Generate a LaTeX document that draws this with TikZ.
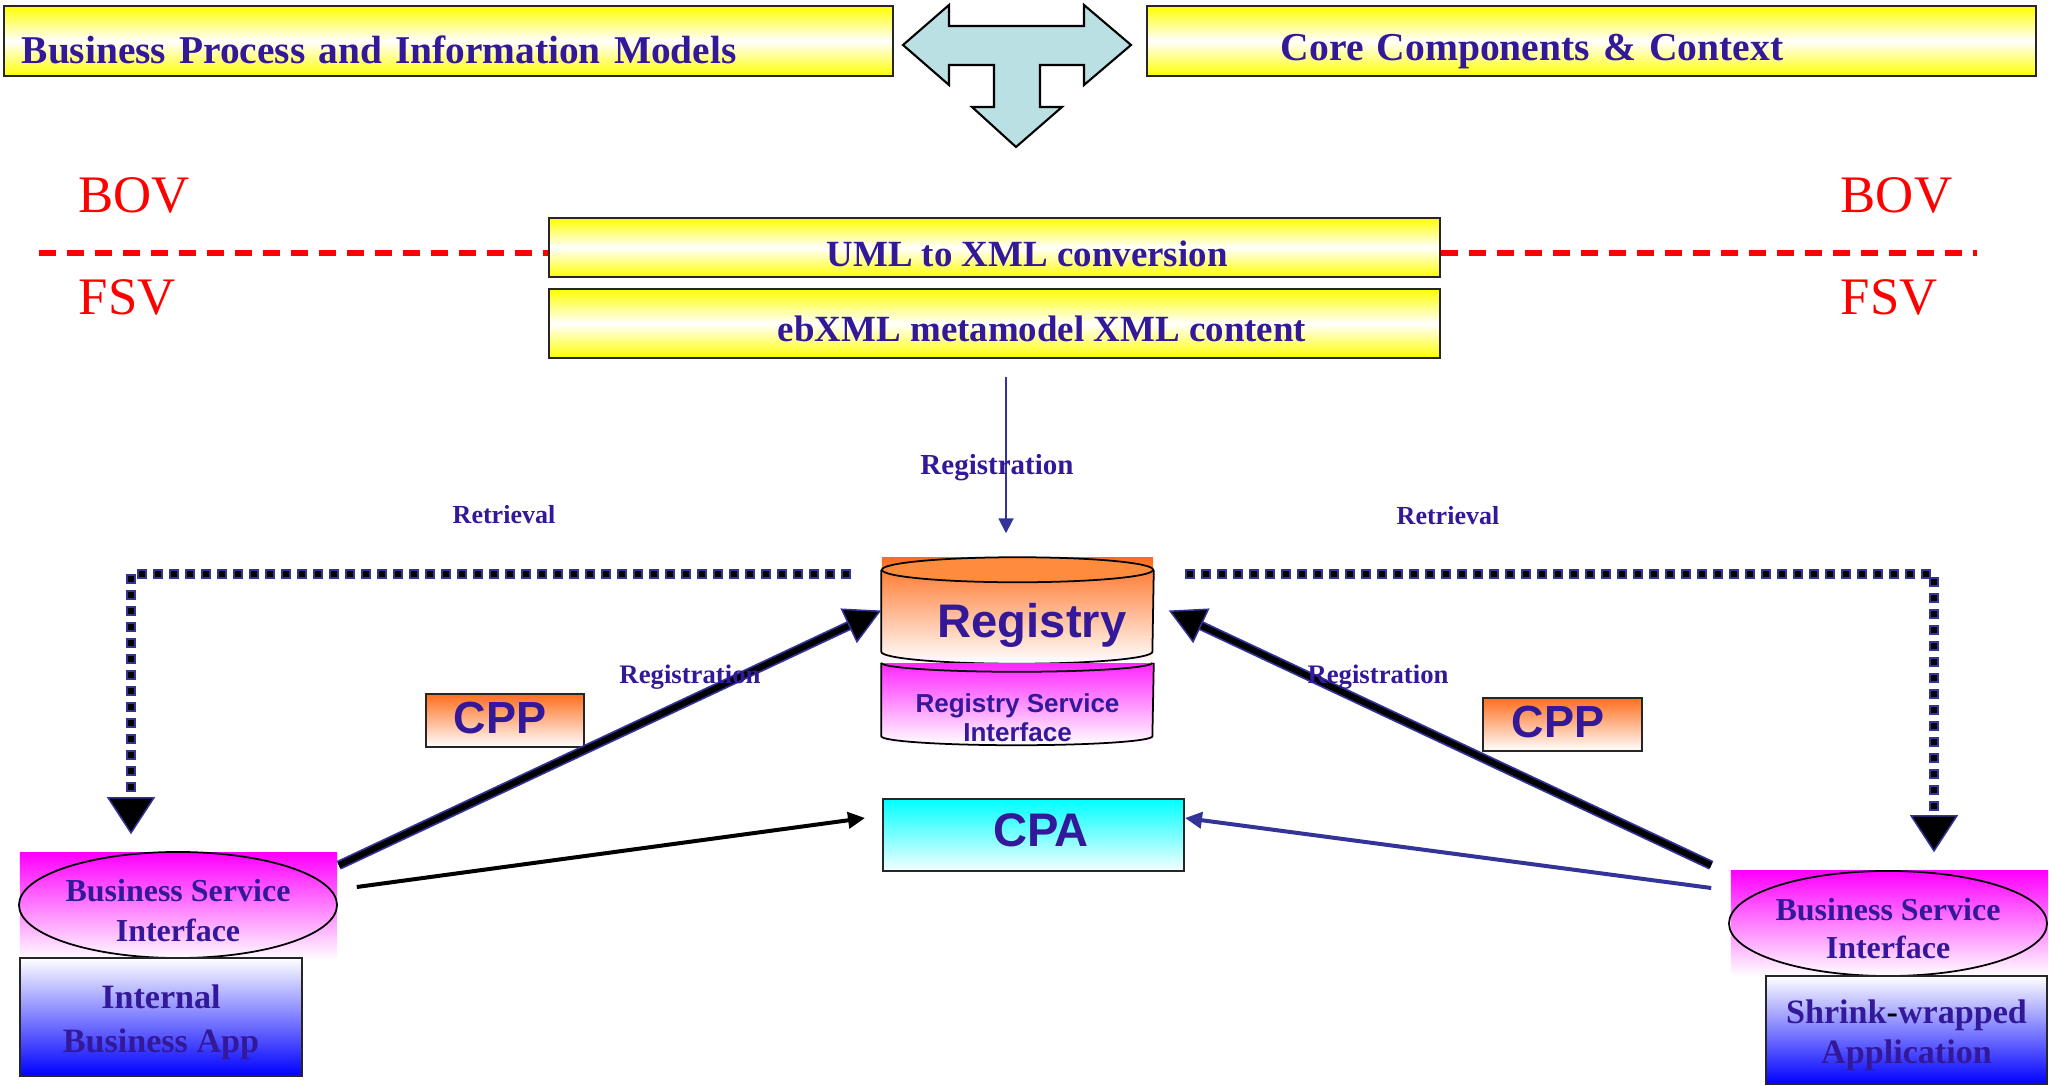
\documentclass[tikz,border=0pt]{standalone}
\usepackage{fontspec}
\setmainfont{Liberation Serif}
\newfontfamily\helv{Liberation Sans}
\usetikzlibrary{arrows.meta,calc,shapes.geometric}
\definecolor{ebblue}{RGB}{51,25,153}
\definecolor{ebline}{RGB}{51,51,153}
\definecolor{tcyan}{RGB}{187,224,227}
\definecolor{ebor}{RGB}{255,110,30}
\definecolor{ebor2}{RGB}{255,140,60}
\definecolor{ebmag}{RGB}{255,0,255}
\begin{document}
\begin{tikzpicture}[x=0.01cm,y=-0.01cm,
  box/.style={draw=black!85, line width=0.5pt, inner sep=0pt},
  ybox/.style={box, top color=yellow, bottom color=yellow, middle color=white, text=ebblue},
  serifB/.style={font=\bfseries\fontsize{#1}{#1}\selectfont, text=ebblue},
  sansB/.style={font=\helv\bfseries\fontsize{#1}{#1}\selectfont, text=ebblue},
  bovtxt/.style={font=\fontsize{15}{18}\selectfont, text=red, inner sep=0pt, anchor=base west},
  lbl/.style={font=\bfseries\fontsize{#1}{#1}\selectfont, text=ebblue, inner sep=0pt, anchor=base},
  reddash/.style={red, line width=0.06cm, dash pattern=on 0.17cm off 0.11cm},
  thickbg/.style={ebline, line width=0.095cm, shorten >=0.33cm},
  thickfg/.style={black, line width=0.06cm, -{Triangle[length=0.36cm,width=0.38cm,fill=black,color=ebline,line width=0.015cm]}},
  dotbg/.style={ebline, line width=0.10cm, dash pattern=on 0.10cm off 0.06cm, shorten >=0.36cm},
  dotfg/.style={black, line width=0.06cm, dash pattern=on 0.06cm off 0.10cm, dash phase=0.14cm,
     -{Triangle[length=0.37cm,width=0.48cm,fill=black,color=ebline,line width=0.015cm]}},
  cpaarrow/.style={line width=0.04cm, -{Triangle[length=0.17cm,width=0.16cm]}},
  cylline/.style={draw=black, line width=0.5pt}
]
\useasboundingbox (0,0) rectangle (2049,1086);
\fill[white] (0,0) rectangle (2049,1086);

% ---- top boxes ----
\node[ybox, minimum width=8.89cm, minimum height=0.70cm, text width=8.53cm, inner xsep=0.18cm,
      align=left, text height=0.44cm, text depth=0cm, serifB=11.2] (bpim) at (448.5,41)
      {Business Process and Information Models};
\node[ybox, minimum width=8.89cm, minimum height=0.70cm, text width=6.21cm, inner xsep=1.34cm,
      align=left, text height=0.40cm, text depth=0cm, serifB=11.25] (ccc) at (1591.5,41)
      {Core Components \& Context};

% ---- T arrow ----
\draw[fill=tcyan, line width=0.6pt] (903,45) -- (949,5) -- (949,26) -- (1084,26) -- (1084,5)
  -- (1131,45) -- (1084,85) -- (1084,65) -- (1040,65) -- (1040,107) -- (1062,107)
  -- (1016,147) -- (972,107) -- (994,107) -- (994,65) -- (949,65) -- (949,85) -- cycle;

% ---- conversion boxes ----
\node[ybox, minimum width=8.91cm, minimum height=0.59cm, text height=0.37cm, text depth=0cm,
      serifB=10.5] (uml) at (994.5,247.5) {\hspace*{0.65cm}UML to XML conversion};
\node[ybox, minimum width=8.91cm, minimum height=0.69cm, text height=0.35cm, text depth=0cm,
      serifB=10.5] (ebxml) at (994.5,323.5) {\hspace*{0.95cm}ebXML metamodel XML content};

% ---- BOV / FSV ----
\coordinate (bovL) at (39,253);
\coordinate (bovR) at (1977,253);
\draw[reddash] (bovL) -- (bovL -| uml.west);
\draw[reddash] (uml.east |- bovR) -- (bovR);
\node[bovtxt] (bov1) at (78,213) {BOV};
\node[bovtxt] (fsv1) at (78,315) {FSV};
\node[bovtxt] (bov2) at (1840,213) {BOV};
\node[bovtxt] (fsv2) at (1840,315) {FSV};

% ---- Registry cylinder ----
\node[inner sep=0pt, minimum width=2.71cm, minimum height=1.05cm, top color=ebor, bottom color=white,
      sansB=13.4, text height=0.53cm, text depth=0cm] (reg) at (1017.5,610.5) {\hspace*{0.29cm}Registry};
\filldraw[fill=ebor2, cylline] ($(reg.north)+(0,12.5)$) ellipse [x radius=1.355cm, y radius=0.125cm];
\draw[cylline] ($(reg.north west)+(0,12.5)$) -- ($(reg.south west)+(0,-12)$)
   arc[start angle=180, end angle=360, x radius=1.355cm, y radius=0.12cm] -- ($(reg.north east)+(0,12.5)$);

% ---- Registry Service Interface ----
\node[inner sep=0pt, minimum width=2.71cm, minimum height=0.81cm, top color=ebmag!85, bottom color=white,
      align=center, font=\helv\bfseries\fontsize{7.4}{8.25}\selectfont, text=ebblue] (rsi) at (1017.5,704)
      {\rule{0pt}{0.47cm}Registry Service\\Interface};
\draw[cylline] (rsi.north west) arc[start angle=180, end angle=360, x radius=1.355cm, y radius=0.09cm];
\draw[cylline] (rsi.north west) -- ($(rsi.south west)+(0,-9)$)
   arc[start angle=180, end angle=360, x radius=1.355cm, y radius=0.09cm] -- (rsi.north east);

% ---- CPA ----
\node[box, minimum width=3.01cm, minimum height=0.72cm, top color=cyan, bottom color=cyan!4,
      sansB=13.4, text height=0.34cm, text depth=0.12cm] (cpa) at (1033.5,835) {\hspace*{0.15cm}CPA};

% ---- CPP boxes ----
\node[box, minimum width=1.58cm, minimum height=0.53cm, top color=ebor, bottom color=white,
      sansB=12.8, text height=0.33cm, text depth=0.08cm] (cppL) at (505,720.5) {CPP\hspace*{0.1cm}};
\node[box, minimum width=1.59cm, minimum height=0.53cm, top color=ebor, bottom color=white,
      sansB=12.8, text height=0.33cm, text depth=0.08cm] (cppR) at (1562.5,724.5) {CPP\hspace*{0.09cm}};

% ---- left business service interface + app ----
\node[inner sep=0pt, minimum width=3.17cm, minimum height=1.07cm, top color=ebmag, bottom color=white]
      (bsiLbg) at (178.5,906.5) {};
\node[ellipse, draw=black, line width=0.5pt, inner sep=0pt, minimum width=3.16cm, minimum height=1.06cm,
      align=center, font=\bfseries\fontsize{9.1}{11.4}\selectfont, text=ebblue] (bsiL) at (178,905)
      {\rule{0pt}{0.34cm}Business Service\\Interface};
\node[box, minimum width=2.82cm, minimum height=1.18cm, top color=white, middle color=blue!25, bottom color=blue,
      align=center, font=\bfseries\fontsize{9.7}{12.5}\selectfont, text=ebblue] (appL) at (161,1017)
      {\rule{0pt}{0.35cm}Internal\\Business App};

% ---- right business service interface + app ----
\node[inner sep=0pt, minimum width=3.17cm, minimum height=1.05cm, top color=ebmag, bottom color=white]
      (bsiRbg) at (1889.5,923.5) {};
\node[ellipse, draw=black, line width=0.5pt, inner sep=0pt, minimum width=3.14cm, minimum height=1.05cm,
      align=center, font=\bfseries\fontsize{9.1}{10.8}\selectfont, text=ebblue] (bsiR) at (1888,923.5)
      {\rule{0pt}{0.32cm}Business Service\\Interface};
\node[box, minimum width=2.81cm, minimum height=1.08cm, top color=white, middle color=blue!25, bottom color=blue,
      align=center, font=\bfseries\fontsize{9.7}{11.4}\selectfont, text=ebblue] (appR) at (1906.5,1030)
      {\rule{0pt}{0.35cm}Shrink{\color{black}-}wrapped\\Application};

% ---- registration (top) ----
\draw[ebline, line width=0.02cm, -{Triangle[length=0.15cm,width=0.15cm]}]
   ($(ebxml.south)+(11.5,18)$) -- ($(reg.north)+(-11.5,-24)$);
\node[lbl=8.25] (regT) at (997,475) {Registration};

% ---- retrieval dotted connectors ----
\coordinate (retL) at ($(reg.west)+(-30,-36.5)$);
\coordinate (retLe) at ($(bsiLbg.north)+(-47.5,-18)$);
\draw[dotbg] (retL) -| (retLe);
\draw[dotfg] (retL) -| (retLe);
\coordinate (retR) at ($(reg.east)+(31,-36.5)$);
\coordinate (retRe) at ($(bsiRbg.north)+(44.5,-18)$);
\draw[dotbg] (retR) -| (retRe);
\draw[dotfg] (retR) -| (retRe);
\node[lbl=7.4] (retLt) at (504,524) {Retrieval};
\node[lbl=7.4] (retRt) at (1448,525) {Retrieval};

% ---- thick registration arrows ----
\draw[thickbg] ($(bsiLbg.north east)+(1,13)$) -- (reg.west);
\draw[thickfg] ($(bsiLbg.north east)+(1,13)$) -- (reg.west);
\draw[thickbg] ($(bsiRbg.north west)+(-19,-5)$) -- ($(reg.east)+(15,0)$);
\draw[thickfg] ($(bsiRbg.north west)+(-19,-5)$) -- ($(reg.east)+(15,0)$);
\node[lbl=7.6] (regL) at (690,684) {Registration};
\node[lbl=7.6] (regR) at (1378,684) {Registration};

% ---- CPA arrows ----
\draw[cpaarrow, black] ($(bsiLbg.east)+(19,-19.5)$) -- ($(cpa.west)+(-17,-17)$);
\draw[cpaarrow, ebline] ($(bsiRbg.west)+(-19,-35.5)$) -- ($(cpa.east)+(0,-17)$);
\end{tikzpicture}
\end{document}
